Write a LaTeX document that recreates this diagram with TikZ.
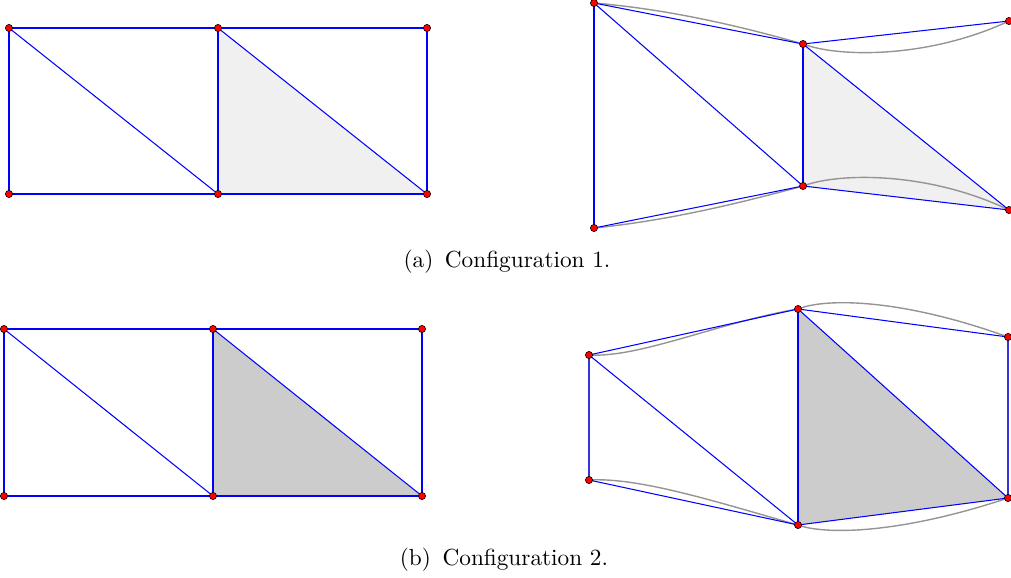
\documentclass[tikz,border=0pt]{standalone}
\usepackage{tikz}
\pgfdeclarelayer{background}
\pgfsetlayers{background,main}
\tikzset{
  pt/.style={circle, fill=red, draw=black, line width=0.25pt, inner sep=0pt, minimum size=3.1pt},
  bedge/.style={draw=blue, line width=0.45pt},
  spline/.style={draw=black!42, line width=0.6pt},
  lightfill/.style={fill=black!6},
  darkfill/.style={fill=black!20},
  captext/.style={font=\fontsize{10}{12}\selectfont, inner sep=0pt}
}
\begin{document}
\begin{tikzpicture}[x=0.43pt, y=-0.43pt]
\useasboundingbox (0,0) rectangle (1011,577);
% ---------- (a) left ----------
\node[pt] (a1) at (9,28) {};
\node[pt] (a2) at (218,28) {};
\node[pt] (a3) at (427,28) {};
\node[pt] (a4) at (9,194) {};
\node[pt] (a5) at (218,194) {};
\node[pt] (a6) at (427,194) {};
% ---------- (a) right ----------
\node[pt] (b1) at (594,3) {};
\node[pt] (b2) at (803,44) {};
\node[pt] (b3) at (1009,21) {};
\node[pt] (b4) at (594,228) {};
\node[pt] (b5) at (803,186) {};
\node[pt] (b6) at (1009,210) {};
% ---------- (b) left ----------
\node[pt] (c1) at (4,329) {};
\node[pt] (c2) at (213,329) {};
\node[pt] (c3) at (422,329) {};
\node[pt] (c4) at (4,496) {};
\node[pt] (c5) at (213,496) {};
\node[pt] (c6) at (422,496) {};
% ---------- (b) right ----------
\node[pt] (d1) at (589,355) {};
\node[pt] (d2) at (798,309) {};
\node[pt] (d3) at (1008,337) {};
\node[pt] (d4) at (589,480) {};
\node[pt] (d5) at (798,525) {};
\node[pt] (d6) at (1008,498) {};
% captions
\node[captext] (capa) at (507,262) {(a)\hspace{5pt}Configuration 1.};
\node[captext] (capb) at (504,560) {(b)\hspace{5pt}Configuration 2.};
\begin{pgfonlayer}{background}
% fills
\path[lightfill] (a2.center) -- (a5.center) -- (a6.center) -- cycle;
\path[lightfill] (b2.center) -- (b5.center) -- (b6.center) -- cycle;
\path[darkfill] (c2.center) -- (c5.center) -- (c6.center) -- cycle;
\path[darkfill] (d2.center) -- (d5.center) -- (d6.center) -- cycle;
% gray splines
\draw[spline] (b1.center) .. controls (664,9) and (733,24) .. (b2.center);
\draw[spline] (b2.center) .. controls (840,58) and (930,58) .. (b3.center);
\draw[spline] (b5.center) .. controls (840,172) and (930,172) .. (b6.center);
\draw[spline] (b4.center) .. controls (664,221) and (733,205) .. (b5.center);
\draw[spline] (d1.center) .. controls (640,358) and (720,322) .. (d2.center);
\draw[spline] (d2.center) .. controls (825,298) and (900,298) .. (d3.center);
\draw[spline] (d4.center) .. controls (640,477) and (720,503) .. (d5.center);
\draw[spline] (d5.center) .. controls (825,535) and (900,534) .. (d6.center);
\draw[spline] (d1.center) -- (d4.center);
\draw[spline] (d3.center) -- (d6.center);
% blue edges (a) left
\draw[bedge] (a1.center) -- (a2.center) -- (a3.center) -- (a6.center) -- (a5.center) -- (a4.center) -- cycle;
\draw[bedge] (a1.center) -- (a5.center);
\draw[bedge] (a2.center) -- (a5.center);
\draw[bedge] (a2.center) -- (a6.center);
% (a) right
\draw[bedge] (b1.center) -- (b2.center) -- (b3.center);
\draw[bedge] (b4.center) -- (b5.center) -- (b6.center);
\draw[bedge] (b1.center) -- (b4.center);
\draw[bedge] (b1.center) -- (b5.center);
\draw[bedge] (b2.center) -- (b5.center);
\draw[bedge] (b2.center) -- (b6.center);
% (b) left
\draw[bedge] (c1.center) -- (c2.center) -- (c3.center) -- (c6.center) -- (c5.center) -- (c4.center) -- cycle;
\draw[bedge] (c1.center) -- (c5.center);
\draw[bedge] (c2.center) -- (c5.center);
\draw[bedge] (c2.center) -- (c6.center);
% (b) right
\draw[bedge] (d1.center) -- (d2.center) -- (d3.center) -- (d6.center) -- (d5.center) -- (d4.center) -- cycle;
\draw[bedge] (d1.center) -- (d5.center);
\draw[bedge] (d2.center) -- (d5.center);
\draw[bedge] (d2.center) -- (d6.center);
\end{pgfonlayer}
\end{tikzpicture}
\end{document}
